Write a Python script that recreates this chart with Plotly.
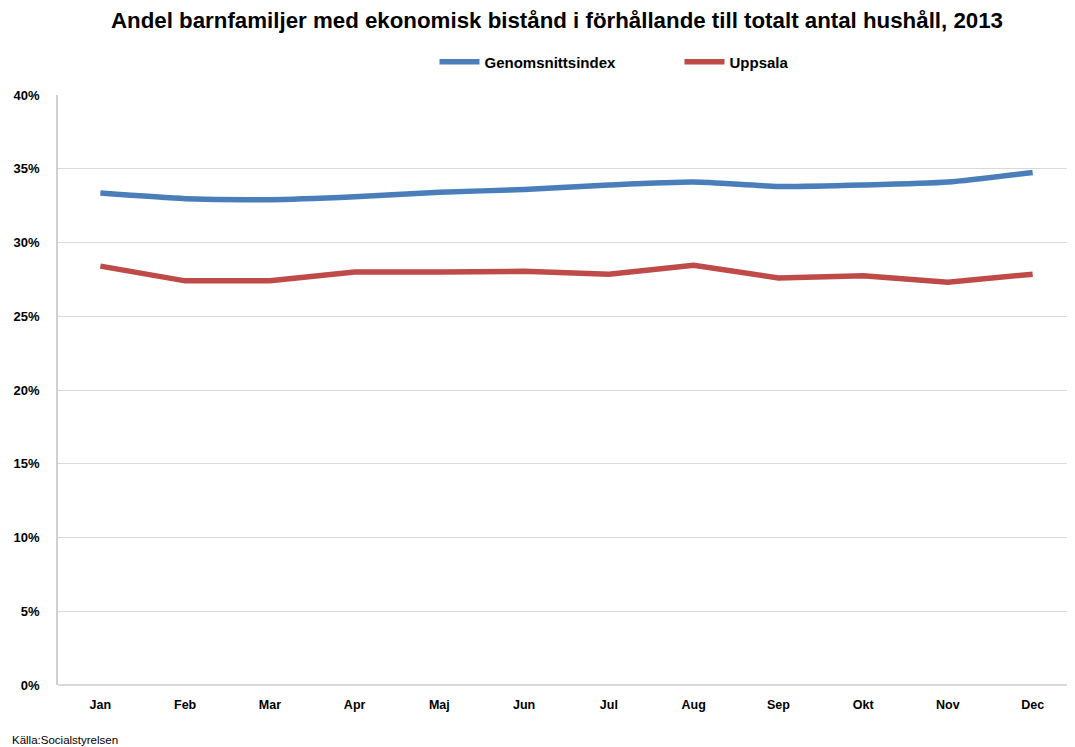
import plotly.graph_objects as go

months = ["Jan", "Feb", "Mar", "Apr", "Maj", "Jun", "Jul", "Aug", "Sep", "Okt", "Nov", "Dec"]
genomsnittsindex = [33.35, 32.97, 32.9, 33.1, 33.4, 33.6, 33.9, 34.1, 33.8, 33.9, 34.1, 34.75]
uppsala = [28.4, 27.4, 27.4, 28.0, 28.0, 28.05, 27.85, 28.45, 27.6, 27.75, 27.3, 27.85]
y_ticks = [0, 5, 10, 15, 20, 25, 30, 35, 40]

title_text = "Andel barnfamiljer med ekonomisk bistånd i förhållande till totalt antal hushåll, 2013"
source_text = "Källa:Socialstyrelsen"

W, H = 1067, 739  # page body has an 8px default margin

fig = go.Figure()
fig.add_trace(go.Scatter(
    x=months, y=genomsnittsindex, name="<b>Genomsnittsindex</b>", mode="lines",
    line=dict(color="#4a7ebb", width=5.5, shape="spline", smoothing=0.6),
))
fig.add_trace(go.Scatter(
    x=months, y=uppsala, name="<b>Uppsala</b>", mode="lines",
    line=dict(color="#be4b48", width=5.5),
))

fig.update_layout(
    width=W, height=H,
    margin=dict(l=50, r=0, t=87, b=62, autoexpand=False),
    paper_bgcolor="white", plot_bgcolor="white",
    title=dict(text="<b>" + title_text + "</b>", x=549 / W, xanchor="center",
               y=1 - 12 / H, yanchor="middle", yref="container",
               font=dict(family="Liberation Sans, Arial", size=22.3, color="black")),
    legend=dict(orientation="h", x=395 / W, xanchor="left", y=1 - 54 / H, yref="container",
                yanchor="middle", itemwidth=40, traceorder="normal",
                entrywidth=190, entrywidthmode="pixels",
                font=dict(family="Liberation Sans, Arial", size=15, color="black"),
                bgcolor="rgba(0,0,0,0)"),
    showlegend=True,
    xaxis=dict(type="category", range=[-0.5, 11.5], showgrid=False,
               showline=False, ticks="", zeroline=False,
               tickvals=months, ticktext=["<b>" + m + "</b>" for m in months],
               tickfont=dict(family="Liberation Sans, Arial", size=12.5, color="black"),
               ticklabelstandoff=10),
    yaxis=dict(range=[0, 40], tickvals=y_ticks, ticktext=["<b>%d%%</b>" % v for v in y_ticks],
               showgrid=True, gridcolor="#d9d9d9", gridwidth=1,
               showline=True, linecolor="#d0d0d0", linewidth=1.5,
               zeroline=True, zerolinecolor="#d9d9d9", zerolinewidth=1.5,
               ticks="", tickfont=dict(family="Liberation Sans, Arial", size=13, color="black"),
               ticklabelstandoff=14),
)

fig.add_annotation(text=source_text, xref="paper", yref="paper", x=0, y=0,
                   xshift=-48, yshift=-55, xanchor="left", yanchor="middle",
                   showarrow=False,
                   font=dict(family="Liberation Sans, Arial", size=11.5, color="black"))

fig.write_html("out.html")
